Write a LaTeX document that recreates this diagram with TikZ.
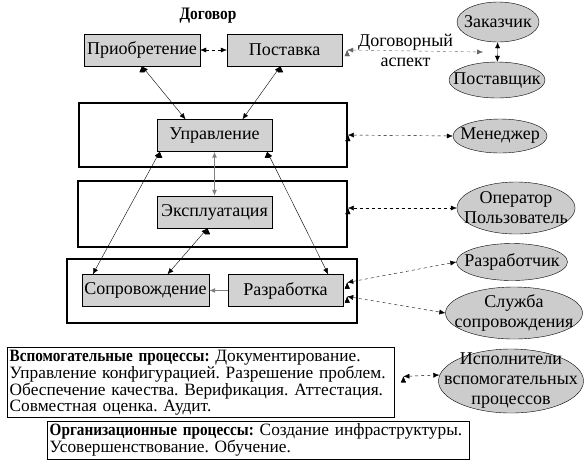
\documentclass[tikz,border=0pt]{standalone}
\usepackage{fontspec}
\setmainfont{Liberation Serif}[BoldFeatures={FakeStretch=0.88}]
\usepackage{tikz}
\usetikzlibrary{shapes,arrows.meta,backgrounds}
\usetikzlibrary{positioning, shapes.geometric}
\frenchspacing
\tikzset{
  sqproc/.style={ draw, fill=gray!35, minimum height=32pt, inner sep=2pt }
}
\tikzset{
  ellrole/.style={ draw, ellipse, fill=gray!40, inner sep=-20pt, align=center }
}
\tikzset{
  frameA/.style={ draw, line width=1.8pt, inner sep=0pt }
}
\tikzset{
  txtbox/.style={ draw, align=left, anchor=north west, inner sep=2.5pt,
    font=\fontsize{17.3}{16.1}\selectfont }
}

\begin{document}
\begin{tikzpicture}[x=1pt, y=-1pt, font=\fontsize{18}{20}\selectfont, >={Latex[length=6pt,width=5pt]}]
      \useasboundingbox (0,0) rectangle (585,467);

      \node[frameA, minimum width=268pt, minimum height=64pt] (fr1) at (213,135) {};
      \node[frameA, minimum width=269pt, minimum height=66pt] (fr2) at (212.5,214) {};
      \node[frameA, minimum width=290pt, minimum height=64pt] (fr3) at (212,291) {};

      \node[font=\fontsize{17.5}{18}\selectfont\bfseries] (dog) at (208,16) {Договор};

      \node[sqproc, minimum width=116pt] (acq) at (142,50) {Приобретение};
      \node[sqproc, minimum width=115pt] (supply) at (284.5,50) {Поставка};
      \node[sqproc, minimum width=115pt] (ctrl) at (214.5,135.5) {Управление};
      \node[sqproc, minimum width=115pt] (ops) at (214.5,212) {Эксплуатация};
      \node[sqproc, minimum width=127pt] (maint) at (145.5,290.5) {Сопровождение};
      \node[sqproc, minimum width=115pt] (dev) at (285.5,290.5) {Разработка};

      \node[ellrole, minimum width=82pt, minimum height=40pt] (cust) at (498,22) {Заказчик};
      \node[ellrole, minimum width=96pt, minimum height=36pt] (supp) at (497,80) {Поставщик};
      \node[ellrole, minimum width=94pt, minimum height=34pt] (mgr) at (500,136) {Менеджер};
      \node[ellrole, minimum width=118pt, minimum height=52pt] (user) at (516,208) {Оператор\\Пользователь};
      \node[ellrole, minimum width=111pt, minimum height=37pt] (devr) at (512,262) {Разработчик};
      \node[ellrole, minimum width=137pt, minimum height=52pt] (svc) at (514,313) {Служба\\сопровождения};
      \node[ellrole, minimum width=145pt, minimum height=64pt] (exec) at (511,381) {Исполнители\\вспомогательных\\процессов};

      \node[txtbox, text width=382pt] (aux) at (7,347) {\textbf{Вспомогательные процессы:} Документирование.\\
        Управление конфигурацией. Разрешение проблем.\\
        Обеспечение качества. Верификация. Аттестация.\\
        Совместная оценка. Аудит.};
      \node[txtbox, text width=417pt] (org) at (47,421) {\textbf{Организационные процессы:} Создание инфраструктуры.\\
        Усовершенствование. Обучение.};

      \coordinate (contr) at (483,52);

      \begin{scope}[<->]
        \draw (acq.south) edge ([xshift=-29pt]ctrl.north);
        \draw ([xshift=-4pt]supply.south) edge ([xshift=28pt]ctrl.north);
        \draw ([xshift=3pt]ctrl.south west) edge ([xshift=11pt]maint.north west);
        \draw ([xshift=-5pt]ctrl.south east) edge ([xshift=-15pt]dev.north east);
        \draw ([xshift=-7pt]ops.south) edge ([xshift=22pt]maint.north);
        \draw (cust) edge (supp);
        \draw[gray, line width=1pt] (ctrl) edge (ops);

        \draw[dashed] (acq) edge (supply);
        \draw[dashed, gray!80!black] ([xshift=5pt]supply.east) edge node[pos=0.43, black, align=center] {Договорный\\аспект} (contr);
        \draw[dashed] (fr1.east) edge (mgr.west);
        \draw[dashed] ([yshift=6pt]fr2.east) edge (user.west);
        \draw[dashed] ([yshift=8pt, xshift=4pt]dev.east) edge (devr.west);
        \draw[dashed] ([yshift=-6pt, xshift=4pt]dev.east) edge (svc.west);
        \draw[dashed] ([yshift=6pt, xshift=9pt]aux.east) edge ([yshift=6pt, xshift=1pt]exec.west);
      \end{scope}
      \draw[->, gray, line width=1pt] (dev) -- (maint);
    \end{tikzpicture}
\end{document}
